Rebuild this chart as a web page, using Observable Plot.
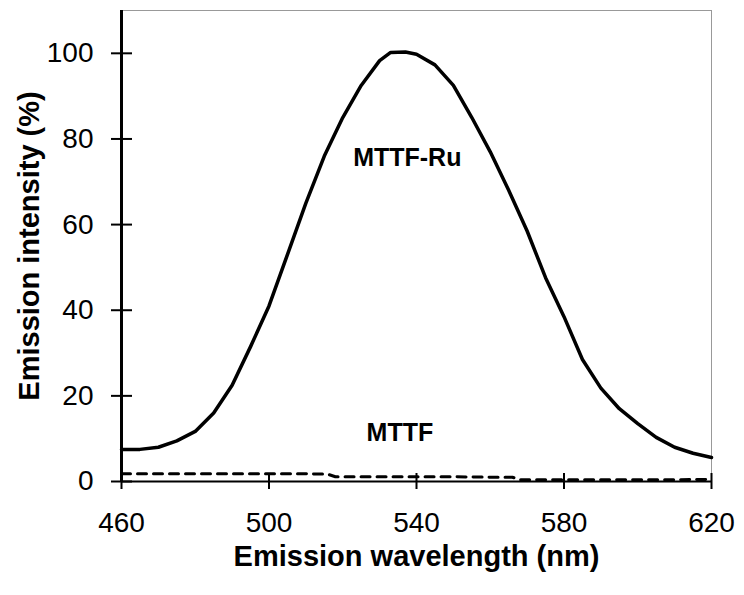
<!DOCTYPE html>
<html>
<head>
<meta charset="utf-8">
<script src="https://cdn.jsdelivr.net/npm/d3@7"></script>
<script src="https://cdn.jsdelivr.net/npm/@observablehq/plot@0.6"></script>
<style>
  html, body { margin: 0; padding: 0; background: #fff; }
  svg { font-family: "Liberation Sans", Arial, sans-serif; }
</style>
</head>
<body>
<div id="chart"></div>
<script>
// MTTF-Ru emission spectrum (wavelength in nm, intensity in %)
const ruWavelength = [460,465,470,475,480,485,490,495,500,505,510,515,520,525,530,533,537,540,545,550,555,560,565,570,575,580,585,590,595,600,605,610,615,620];
const ruIntensity  = [7.5,7.5,8.0,9.5,11.7,16,22.5,31.5,41,53,65,76,85,92.5,98.3,100.2,100.3,99.8,97.3,92.5,85,77,68,58.5,47.6,38.5,28.5,21.8,17,13.5,10.3,8,6.6,5.6];

// MTTF emission (dashed, near baseline)
const mttfWavelength = [460,470,480,490,500,510,516,518,530,540,550,560,566,568,580,590,600,610,620];
const mttfIntensity  = [1.8,1.8,1.8,1.8,1.8,1.8,1.7,1.1,1.1,1.1,1.1,1.0,1.0,0.4,0.4,0.4,0.4,0.4,0.5];

const xTicks = [460,500,540,580,620];
const yTicks = [0,20,40,60,80,100];

const seriesLabels = ["MTTF-Ru","MTTF"];
const labelWavelength = [537.5,535.5];
const labelIntensity = [75.6,11.4];

const xTitle = "Emission wavelength (nm)";
const yTitle = "Emission intensity (%)";

const ru = ruWavelength.map((w,i) => ({w, v: ruIntensity[i]}));
const mttf = mttfWavelength.map((w,i) => ({w, v: mttfIntensity[i]}));
const labels = seriesLabels.map((t,i) => ({t, w: labelWavelength[i], v: labelIntensity[i]}));

const W = 744, H = 595, ML = 121, MR = 33, MT = 10, MB = 114;
const plotW = W - ML - MR, plotH = H - MT - MB;

const chart = Plot.plot({
  width: W,
  height: H,
  marginLeft: ML,
  marginRight: MR,
  marginTop: MT,
  marginBottom: MB,
  x: {domain: [460, 620], axis: null},
  y: {domain: [0, 110], axis: null},
  marks: [
    Plot.frame({stroke: "#999", strokeWidth: 1}),
    Plot.lineY(mttf, {x: "w", y: "v", stroke: "#000", strokeWidth: 3, strokeDasharray: "9,7"}),
    Plot.lineY(ru, {x: "w", y: "v", stroke: "#000", strokeWidth: 3.5}),
    Plot.ruleX([460], {stroke: "#000", strokeWidth: 3}),
    Plot.ruleY([0], {stroke: "#000", strokeWidth: 2}),
    Plot.tickX(xTicks, {x: d => d, insetTop: plotH - 8, insetBottom: -8, stroke: "#000", strokeWidth: 2}),
    Plot.tickY(yTicks, {y: d => d, insetLeft: -10, insetRight: plotW - 11, stroke: "#000", strokeWidth: 2}),
    Plot.axisX({ticks: xTicks, tickSize: 0, tickPadding: 31, fontSize: 28, label: null, fill: "#000"}),
    Plot.axisY({ticks: yTicks, tickSize: 0, tickPadding: 28, fontSize: 28, label: null, fill: "#000"}),
    Plot.text(labels, {x: "w", y: "v", text: "t", fontSize: 25, fontWeight: "bold", fill: "#000"}),
    Plot.text([xTitle], {frameAnchor: "bottom", dy: 84, textAnchor: "middle", fontSize: 29, fontWeight: "bold", fill: "#000"}),
    Plot.text([yTitle], {frameAnchor: "left", dx: -92, rotate: -90, textAnchor: "middle", fontSize: 29, fontWeight: "bold", fill: "#000"})
  ]
});
document.getElementById("chart").appendChild(chart);
</script>
</body>
</html>
